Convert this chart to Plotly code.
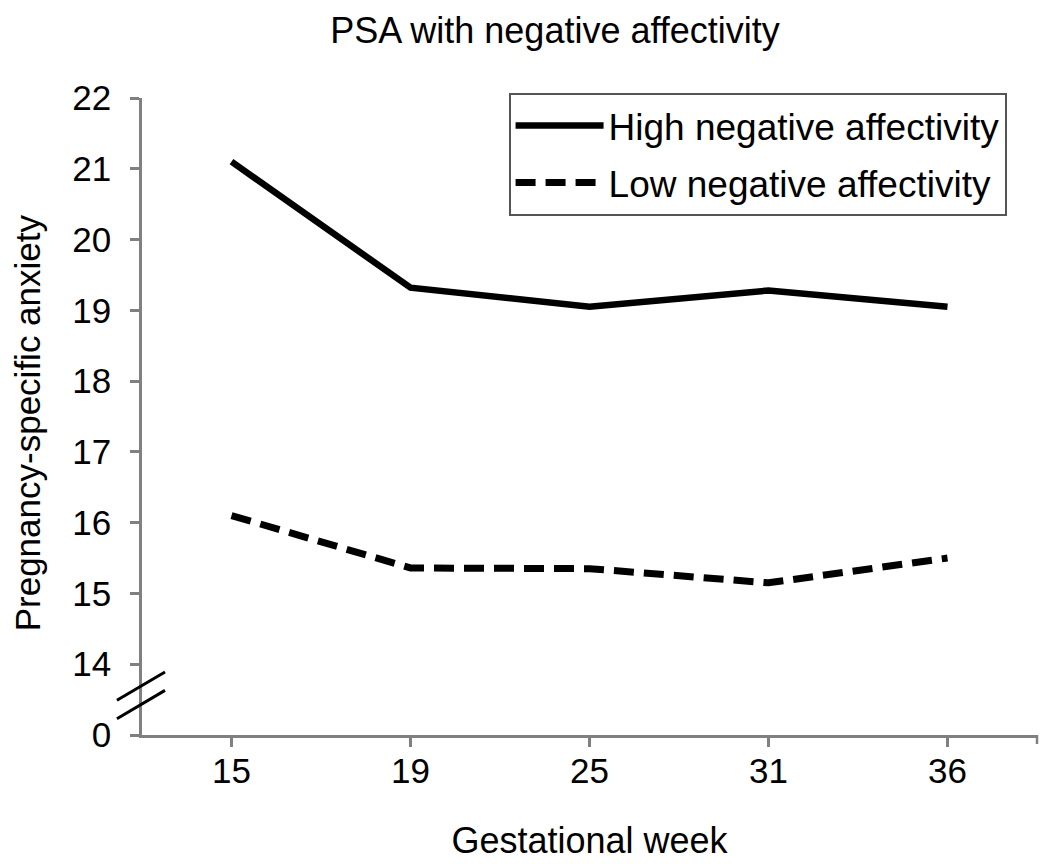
import plotly.graph_objects as go

weeks = ["15", "19", "25", "31", "36"]
high_na = [21.1, 19.32, 19.05, 19.28, 19.05]
low_na = [16.1, 15.36, 15.35, 15.15, 15.5]
y_tickvals = [13, 14, 15, 16, 17, 18, 19, 20, 21, 22]
y_ticktext = ["0", "14", "15", "16", "17", "18", "19", "20", "21", "22"]

FONT = "Liberation Sans, Arial, sans-serif"
AX = "#808080"

fig = go.Figure()
fig.add_trace(go.Scatter(x=weeks, y=high_na, mode="lines", name="High negative affectivity",
                         legendgroup="a", line=dict(color="black", width=6.5)))
fig.add_trace(go.Scatter(x=weeks, y=low_na, mode="lines", name="Low negative affectivity",
                         legendgroup="b", line=dict(color="black", width=7, dash="20px,10px")))

fig.update_layout(
    width=1042, height=856,
    margin=dict(l=134, r=13, t=90, b=129),
    paper_bgcolor="white", plot_bgcolor="white",
    font=dict(family=FONT, size=35, color="black"),
    title=dict(text="PSA with negative affectivity", x=0.525, xanchor="center",
               y=0.974, yanchor="middle", font=dict(size=36)),
    showlegend=True,
    legend=dict(x=0.966, xanchor="right", y=1.008, yanchor="top",
                bordercolor="#555555", borderwidth=2, bgcolor="white",
                font=dict(size=37), tracegroupgap=6, itemwidth=88),
    xaxis=dict(type="category", range=[-0.5, 4.5], showline=True, linecolor=AX, linewidth=2.5,
               ticks="outside", ticklen=9, tickwidth=2.5, tickcolor=AX, showgrid=False,
               zeroline=False, tickfont=dict(size=35), automargin=False,
               ticklabelstandoff=-6,
               title=dict(text="Gestational week", font=dict(size=36), standoff=40)),
    yaxis=dict(range=[13, 22], tickvals=y_tickvals, ticktext=y_ticktext, showline=True,
               linecolor=AX, linewidth=2.5, ticks="outside", ticklen=9, tickwidth=2.5,
               tickcolor=AX, showgrid=False, zeroline=False, tickfont=dict(size=35),
               ticklabelstandoff=12, automargin=False),
)

fig.add_annotation(text="Pregnancy-specific anxiety", xref="paper", yref="paper",
                   x=-0.128, y=0.49, xanchor="center", yanchor="middle", textangle=-90,
                   showarrow=False, font=dict(size=35))

# right end tick of x axis
fig.add_shape(type="line", xref="x domain", yref="y domain", x0=1, x1=1, y0=0, y1=-9/637,
              line=dict(color=AX, width=2.5))
# axis break marks
for (ya, yb) in [(13.49, 13.89), (13.23, 13.63)]:
    fig.add_shape(type="line", xref="x domain", yref="y", x0=-0.028, x1=0.0257, y0=ya, y1=yb,
                  line=dict(color="black", width=3))

fig.write_html("out.html")
